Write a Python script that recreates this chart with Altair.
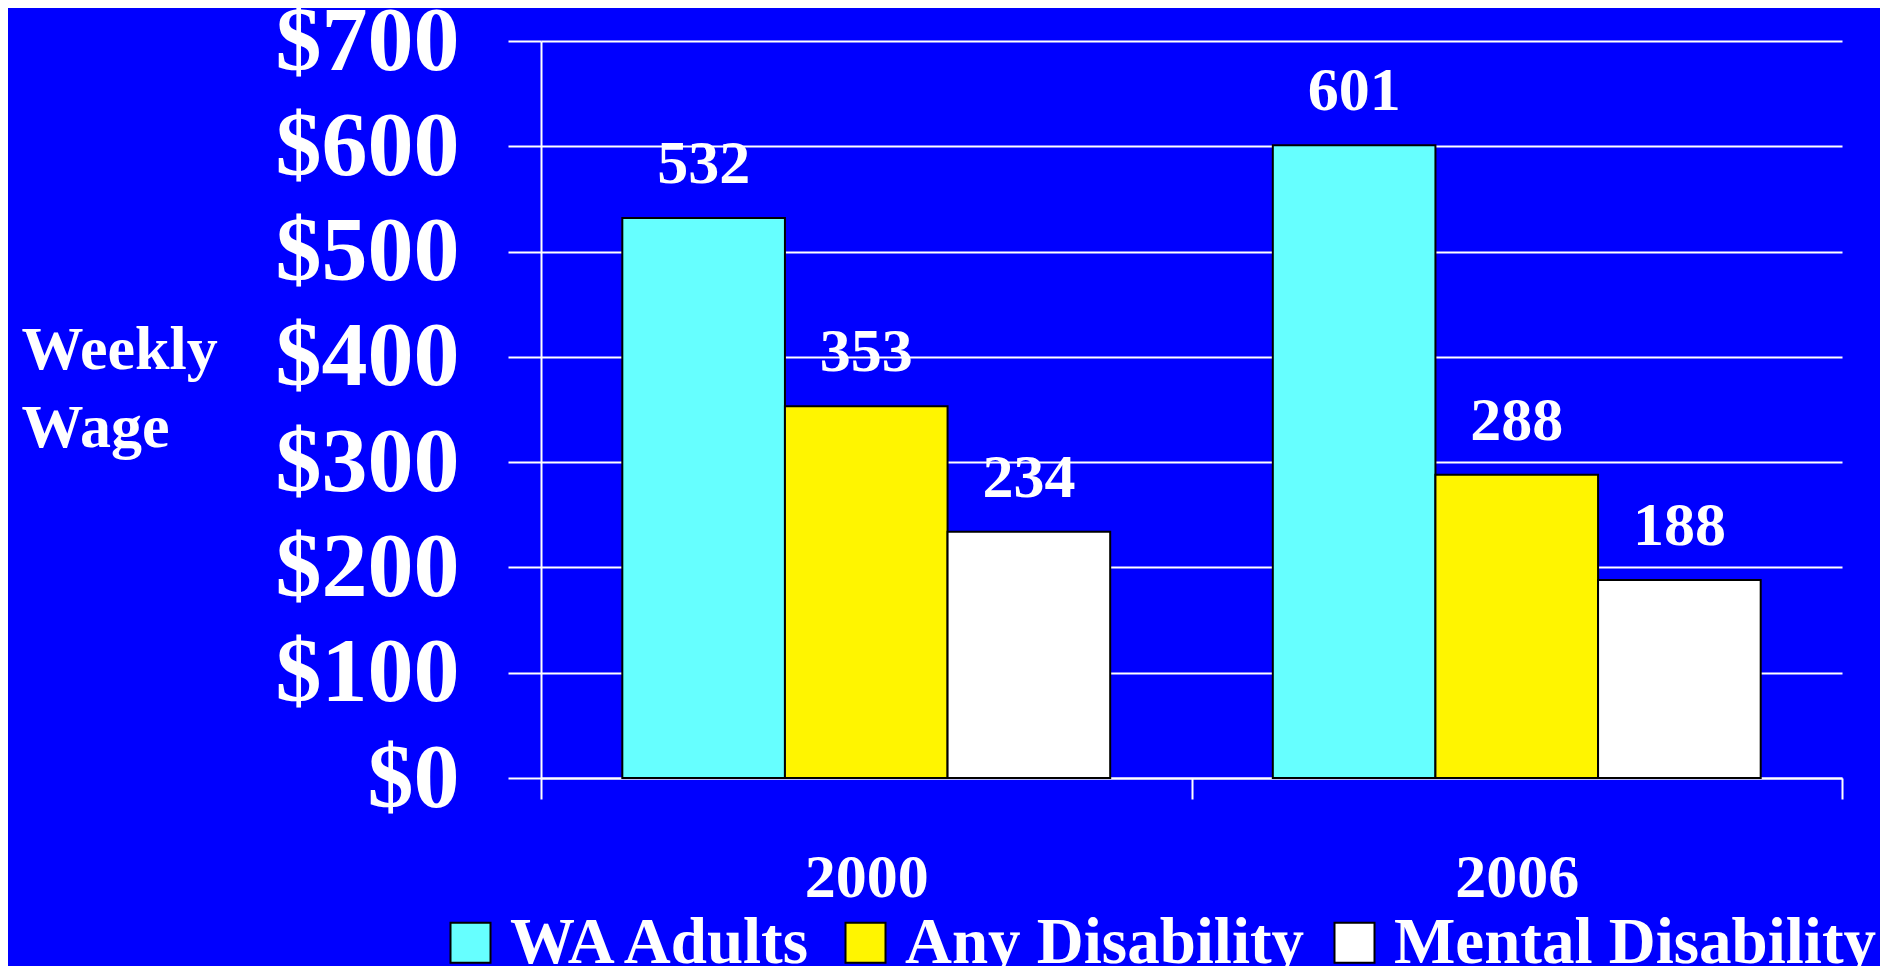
import altair as alt
import pandas as pd

years = ["2000", "2006"]
series = ["WA Adults", "Any Disability", "Mental Disability"]
wa_adults = [532, 601]
any_disability = [353, 288]
mental_disability = [234, 188]
colors = ["#66FFFF", "#FFF500", "#FFFFFF"]
y_ticks = [0, 100, 200, 300, 400, 500, 600, 700]

rows = []
for i, yr in enumerate(years):
    for s, vals in zip(series, [wa_adults, any_disability, mental_disability]):
        rows.append({"year": yr, "series": s, "value": vals[i]})
df = pd.DataFrame(rows)

FONT = "Liberation Serif"

x_enc = alt.X(
    "year:N",
    sort=years,
    scale=alt.Scale(paddingInner=0, paddingOuter=0),
    axis=alt.Axis(
        title=None,
        labelAngle=0,
        labelFont=FONT,
        labelFontSize=62,
        labelFontWeight="bold",
        labelColor="white",
        labelBaseline="alphabetic",
        labelPadding=97,
        labelLimit=0,
        tickBand="extent",
        tickSize=21,
        tickColor="white",
        tickWidth=2,
        domainColor="white",
        domainWidth=2,
        grid=False,
    ),
)
xoff_enc = alt.XOffset(
    "series:N", sort=series, scale=alt.Scale(paddingInner=0, paddingOuter=0.5)
)
y_enc = alt.Y(
    "value:Q",
    scale=alt.Scale(domain=[0, 700], nice=False),
    axis=alt.Axis(
        values=y_ticks,
        format="$d",
        title=["Weekly", "Wage"],
        titleAngle=0,
        titleAlign="left",
        titleBaseline="alphabetic",
        titleX=-520,
        titleY=327,
        titleFont=FONT,
        titleFontSize=62,
        titleFontWeight="bold",
        titleColor="white",
        titleLineHeight=78,
        titleLimit=0,
        labelFont=FONT,
        labelFontSize=92,
        labelFontWeight="bold",
        labelColor="white",
        labelPadding=49,
        labelLimit=0,
        tickSize=33,
        tickColor="white",
        tickWidth=2,
        domainColor="white",
        domainWidth=2,
        gridColor="white",
        gridWidth=2,
        gridOpacity=1,
    ),
)

bars = alt.Chart(df).mark_bar(stroke="black", strokeWidth=2, opacity=1).encode(
    x=x_enc,
    xOffset=xoff_enc,
    y=y_enc,
    color=alt.Color(
        "series:N",
        sort=series,
        scale=alt.Scale(domain=series, range=colors),
        legend=alt.Legend(
            title=None,
            orient="none",
            legendX=-103,
            legendY=869,
            direction="horizontal",
            columns=3,
            columnPadding=17,
            symbolType="square",
            symbolSize=1600,
            symbolStrokeColor="black",
            symbolStrokeWidth=2,
            symbolOpacity=1,
            labelFont=FONT,
            labelFontSize=65,
            labelFontWeight="bold",
            labelColor="white",
            labelOffset=7,
            labelLimit=0,
            padding=0,
        ),
    ),
)

labels = alt.Chart(df).mark_text(
    font=FONT, fontSize=62, fontWeight="bold", color="white",
    baseline="alphabetic", dy=-35,
).encode(
    x=alt.X("year:N", sort=years),
    xOffset=alt.XOffset("series:N", sort=series),
    y=alt.Y("value:Q"),
    text=alt.Text("value:Q"),
)

chart = (
    alt.layer(bars, labels)
    .properties(
        width=1301,
        height=737,
        background="#0000FF",
        padding={"left": 533, "top": 33, "right": 38, "bottom": 188},
        autosize=alt.AutoSizeParams(type="none"),
    )
    .configure_view(stroke=None)
)

chart.save("out.html", embed_options={"renderer": "svg", "actions": False})
